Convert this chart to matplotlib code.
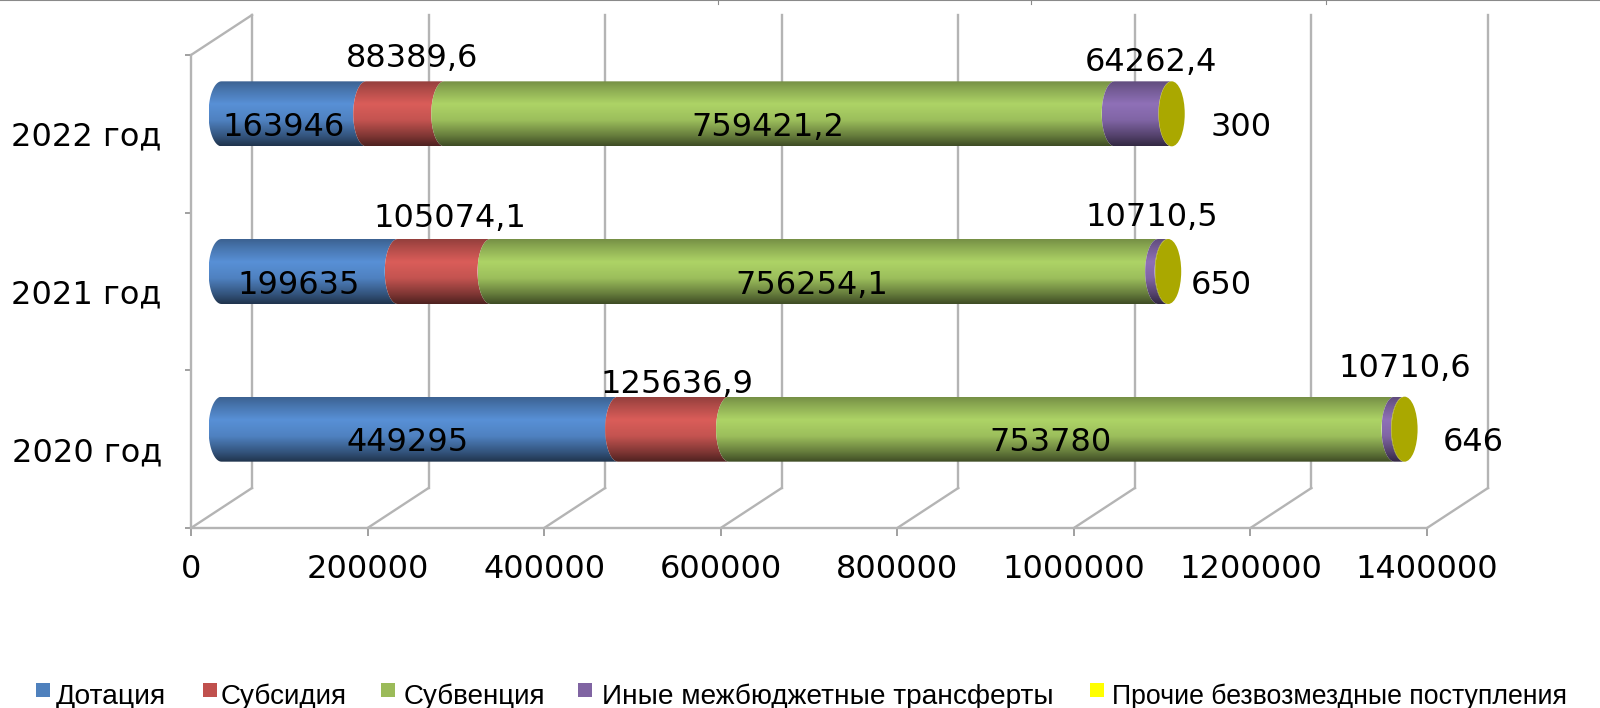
import numpy as np
import matplotlib
matplotlib.use("Agg")
import matplotlib.pyplot as plt
from matplotlib.patches import PathPatch, Ellipse, Rectangle
from matplotlib.path import Path
from matplotlib.lines import Line2D

years = ["2020 год", "2021 год", "2022 год"]
series_names = ["Дотация", "Субсидия", "Субвенция", "Иные межбюджетные трансферты",
                "Прочие безвозмездные поступления"]
dotation = [449295, 199635, 163946]
subsidy = [125636.9, 105074.1, 88389.6]
subvention = [753780, 756254.1, 759421.2]
other_transfers = [10710.6, 10710.5, 64262.4]
other_receipts = [646, 650, 300]
x_ticks = [0, 200000, 400000, 600000, 800000, 1000000, 1200000, 1400000]
label_texts = [
    ["449295", "199635", "163946"],
    ["125636,9", "105074,1", "88389,6"],
    ["753780", "756254,1", "759421,2"],
    ["10710,6", "10710,5", "64262,4"],
    ["646", "650", "300"],
]

W, H = 1600, 708
fig = plt.figure(figsize=(W / 100, H / 100), dpi=100, facecolor="white")
L, R, B, T = 191, 1427, 528, 55
ax = fig.add_axes([L / W, 1 - B / H, (R - L) / W, (B - T) / H])
ax.set_xlim(0, 1400000)
ax.set_ylim(0, 3)
ax.patch.set_visible(False)

px = 1400000 / (R - L)
py = 3 / (B - T)
depth_x, depth_y = 61 * px, 40 * py
grid = "#b4b4b4"
lw = 1.7
font_size = 23

for s in ("top", "right"):
    ax.spines[s].set_visible(False)
for s in ("left", "bottom"):
    ax.spines[s].set_color(grid)
    ax.spines[s].set_linewidth(lw)

ax.set_xticks(x_ticks)
ax.set_xticklabels([str(v) for v in x_ticks], fontsize=font_size, family="DejaVu Sans")
ax.tick_params(axis="x", length=6, width=1.2, color="#909090", pad=13)
ax.set_yticks([0, 1, 2, 3])
ax.set_yticklabels([])
ax.tick_params(axis="y", which="major", length=4, width=1.2, color="#909090")
ax.set_yticks([0.5, 1.5, 2.5], minor=True)
ax.set_yticklabels(years, minor=True, fontsize=font_size, family="DejaVu Sans")
ax.tick_params(axis="y", which="minor", length=0, pad=21)

# back wall and floor
for v in x_ticks:
    ax.plot([v, v + depth_x], [0, depth_y], color=grid, lw=lw, clip_on=False, zorder=1)
    ax.plot([v + depth_x] * 2, [depth_y, 3 + depth_y], color=grid, lw=lw,
            clip_on=False, zorder=1)
ax.plot([0, depth_x], [3, 3 + depth_y], color=grid, lw=lw, clip_on=False, zorder=1)

# cylinders
colors = {
    0: np.array([0.345, 0.565, 0.84]),
    1: np.array([0.855, 0.365, 0.35]),
    2: np.array([0.68, 0.83, 0.40]),
    3: np.array([0.56, 0.44, 0.72]),
    4: np.array([0.665, 0.66, 0.0]),
}
ew = 13 * px
bar_h = 65 * py
cx, cy = depth_x / 2, depth_y / 2
prof_t = np.linspace(0, 1, 120)
prof = np.interp(prof_t, [0, 0.12, 0.35, 0.6, 0.85, 1], [0.68, 0.8, 1.0, 0.9, 0.58, 0.36])


def left_arc(x, yc, up):
    th = np.linspace(-np.pi / 2, np.pi / 2, 40)
    xs = x - ew * np.cos(th)
    ys = yc + bar_h / 2 * np.sin(th)
    if not up:
        xs, ys = xs[::-1], ys[::-1]
    return np.column_stack([xs, ys])


all_series = [dotation, subsidy, subvention, other_transfers, other_receipts]
offsets = {  # label shift from the segment's middle, pixels (series, year)
    (0, 0): (-12, -13), (0, 1): (-11, -14), (0, 2): (-10, -14),
    (1, 0): (3, 45), (1, 1): (6, 53), (1, 2): (7, 55),
    (2, 0): (-11, -13), (2, 1): (-13, -14), (2, 2): (-12, -14),
    (3, 0): (5, 61), (3, 1): (-11, 54), (3, 2): (8, 51),
    (4, 0): (69, -13), (4, 1): (53, -14), (4, 2): (70, -14),
}

for yi in range(3):
    yc = yi + 0.5 + cy
    start = 0.0
    for si, vals in enumerate(all_series):
        v = vals[yi]
        x0, x1 = start + cx, start + v + cx
        poly = np.vstack([left_arc(x1, yc, False), left_arc(x0, yc, True)])
        poly = np.vstack([poly, poly[:1]])
        clip = PathPatch(Path(poly), fc="none", ec="none", transform=ax.transData)
        ax.add_patch(clip)
        grad = (colors[si][None, :] * prof[:, None])[:, None, :]
        im = ax.imshow(grad, extent=[x0 - ew, x1 + 1, yc - bar_h / 2, yc + bar_h / 2],
                       aspect="auto", origin="upper", zorder=3, interpolation="bilinear")
        im.set_clip_path(clip)
        dx, dy = offsets[(si, yi)]
        ax.annotate(label_texts[si][yi], xy=(start + v / 2 + cx, yc), xytext=(dx, dy),
                    xycoords="data", textcoords="offset pixels", ha="center", va="center",
                    fontsize=font_size, family="DejaVu Sans", color="black", zorder=6,
                    annotation_clip=False)
        start += v
    ax.add_patch(Ellipse((start + cx, yc), 2 * ew, bar_h, fc=colors[4], ec="none", zorder=4))

ax.set_xlim(0, 1400000)
ax.set_ylim(0, 3)

# top edge of the picture
fig.add_artist(Line2D([0, 1], [0.9993, 0.9993], color="#8a8a8a", lw=1.5))
for tx in (718, 1031, 1326):
    fig.add_artist(Line2D([tx / W, tx / W], [1, 1 - 4 / H], color="#8a8a8a", lw=0.8))

# legend
marker_x = [36, 203, 381, 578, 1090]
text_x = [56, 221, 404, 602, 1112]
legend_sizes = [20.3, 20.1, 20, 20.2, 19.2]
legend_colors = ["#4f81bd", "#c0504d", "#9bbb59", "#8064a2", "#ffff00"]
for mx, tx, name, c, fs in zip(marker_x, text_x, series_names, legend_colors, legend_sizes):
    fig.add_artist(Rectangle((mx / W, 1 - 697 / H), 14 / W, 14 / H, fc=c, ec="none",
                             transform=fig.transFigure))
    fig.text(tx / W, 1 - 697 / H, name, fontsize=fs, family="Liberation Sans",
             ha="left", va="center", color="black")

fig.savefig("out.png", dpi=100)
